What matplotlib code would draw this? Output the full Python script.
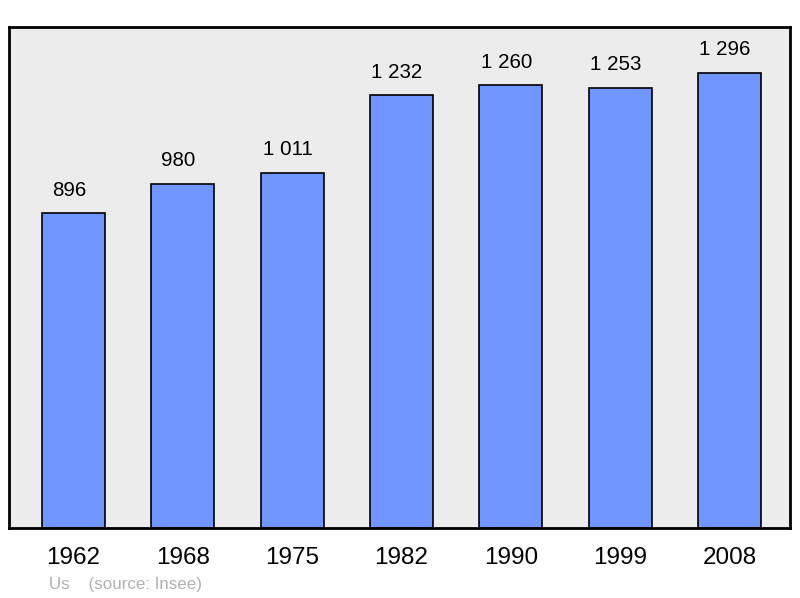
import matplotlib
matplotlib.use("Agg")
from matplotlib import pyplot as plt

years = ["1962", "1968", "1975", "1982", "1990", "1999", "2008"]
population = [896, 980, 1011, 1232, 1260, 1253, 1296]
value_labels = ["896", "980", "1 011", "1 232", "1 260", "1 253", "1 296"]
source_text = "Us    (source: Insee)"

plt.rcParams['font.family'] = ['Liberation Sans', 'DejaVu Sans']

fig = plt.figure(figsize=(8, 5.98), dpi=100)
ax = fig.add_axes([0.01125, 0.117, 0.97625, 0.838])
ax.set_facecolor('#ececec')

x = range(len(years))
ax.bar(x, population, width=0.576, color='#7095ff', edgecolor='#000000', linewidth=1.2, zorder=2)

# value labels sit a little left of the bar centre, like the original
for i, (v, lab) in enumerate(zip(population, value_labels)):
    ax.annotate(lab, (i, v), xytext=(-3.2, 16.5), textcoords='offset points',
                ha='center', va='center', fontsize=14.8, color='#000000')

ax.set_xlim(-0.59, 6.553)
ax.set_ylim(0, 1426)
ax.set_yticks([])
ax.set_xticks(list(x))
ax.set_xticklabels(years, fontsize=17.5)
ax.tick_params(axis='x', length=0, pad=14)
for s in ax.spines.values():
    s.set_linewidth(2)
    s.set_color('#000000')

fig.text(49 / 800, 1 - 584 / 598, source_text, fontsize=12.2, color='#b0b0b0', va='center', ha='left')

fig.savefig("out.png", dpi=100)
